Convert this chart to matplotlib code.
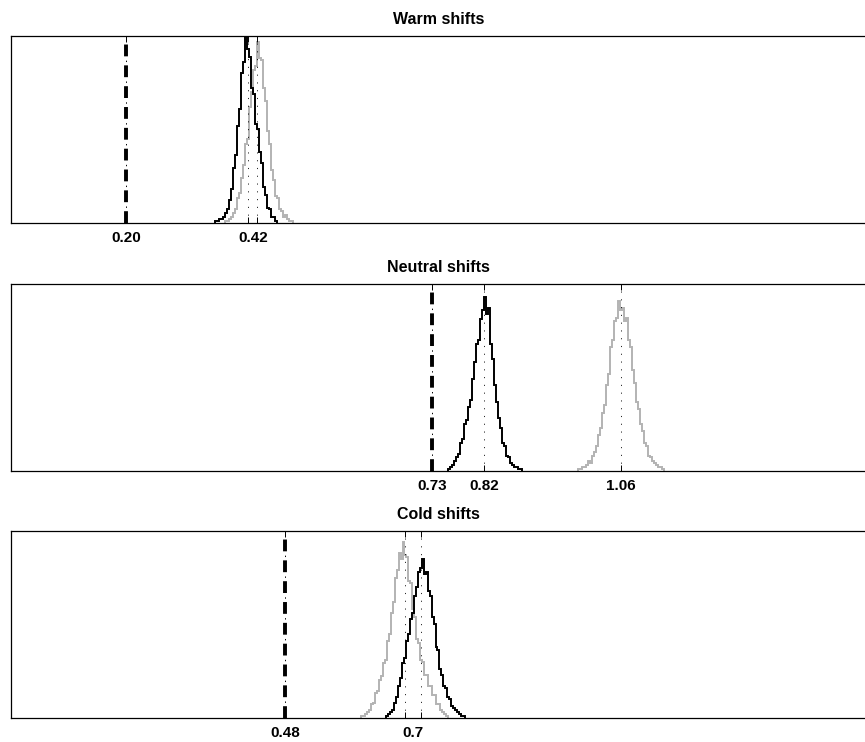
import numpy as np
import matplotlib
matplotlib.use("Agg")
from matplotlib import pyplot as plt

plt.rcParams['font.family'] = ['Liberation Sans', 'DejaVu Sans']
plt.rcParams['lines.scale_dashes'] = False

# ---- data ----
titles = ["Warm shifts", "Neutral shifts", "Cold shifts"]
xlims = [(0.0, 1.5), (-0.0095, 1.4905), (0.0, 1.5)]
bin_width = 0.0035

# observed value (thick dash-dot line)
observed = [0.202, 0.73, 0.4815]
# means of the two simulated distributions (dotted lines)
mean_black = [0.4165, 0.82, 0.7188]
mean_gray = [0.4323, 1.06, 0.6907]
# tick label positions / texts
label_pos = [[0.202, 0.4245], [0.73, 0.82, 1.06], [0.4815, 0.705]]
label_txt = [["0.20", "0.42"], ["0.73", "0.82", "1.06"], ["0.48", "0.7"]]

# histogram counts (percent of panel height), first bin edge
black_start = [0.3585, 0.7568, 0.6573]
gray_start = [0.3761, 0.9852, 0.6134]

black_p1 = [1, 1, 2, 2, 3, 5, 7, 12, 18, 29, 36, 52, 61, 80, 86, 100, 93, 89, 72, 69,
            53, 50, 38, 32, 19, 15, 8, 7, 3, 3, 1]
gray_p1 = [1, 1, 2, 3, 5, 7, 13, 16, 24, 31, 42, 45, 62, 70, 82, 84, 97, 88, 87, 72,
           65, 49, 42, 28, 23, 14, 13, 7, 6, 3, 4, 2, 1, 1]
black_p2 = [1, 2, 3, 5, 7, 9, 15, 17, 25, 27, 34, 38, 49, 58, 68, 70, 81, 86, 93, 84,
            87, 68, 60, 46, 37, 28, 23, 15, 13, 8, 7, 4, 3, 2, 2, 1, 1]
gray_p2 = [1, 1, 2, 2, 3, 5, 4, 8, 10, 13, 19, 23, 31, 35, 46, 52, 66, 70, 80, 82,
           91, 86, 87, 80, 82, 70, 66, 54, 47, 37, 33, 25, 21, 15, 13, 8, 7, 5, 4, 3,
           2, 2, 1]
black_p3 = [1, 2, 3, 4, 8, 11, 17, 21, 29, 32, 41, 45, 53, 56, 65, 70, 78, 80, 85, 77,
            78, 68, 65, 54, 50, 38, 36, 26, 23, 17, 16, 11, 10, 6, 5, 4, 3, 2, 1, 1]
gray_p3 = [1, 1, 2, 3, 4, 7, 8, 13, 14, 20, 22, 29, 31, 41, 45, 56, 62, 75, 79, 88,
           85, 94, 87, 86, 73, 72, 58, 54, 42, 40, 31, 30, 23, 23, 17, 17, 12, 12, 7, 7,
           4, 3, 2, 1]

black_counts = [black_p1, black_p2, black_p3]
gray_counts = [gray_p1, gray_p2, gray_p3]

# ---- layout ----
fig = plt.figure(figsize=(8.65, 7.42), dpi=100)
rects = [[0.0127, 0.7001, 0.9884, 0.2513],
         [0.0127, 0.3659, 0.9884, 0.2513],
         [0.0127, 0.0330, 0.9884, 0.2513]]

gray_col = '#b3b3b3'

for i in range(3):
    ax = fig.add_axes(rects[i])

    gc = np.array(gray_counts[i])
    ge = gray_start[i] + bin_width * np.arange(len(gc) + 1)
    ax.stairs(gc, ge, color=gray_col, lw=1.4)

    bc = np.array(black_counts[i])
    be = black_start[i] + bin_width * np.arange(len(bc) + 1)
    ax.stairs(bc, be, color='black', lw=1.4)

    # mean lines
    for m in (mean_black[i], mean_gray[i]):
        ax.axvline(m, color='black', lw=0.6, linestyle=(0, (0.8, 4.8)))

    # observed: thick dashes with small dots in between
    ax.axvline(observed[i], color='black', lw=2.8, linestyle=(0, (8.5, 6.5)))
    ax.axvline(observed[i], color='black', lw=0.7, linestyle=(3.75, (1.0, 14.0)))

    ax.set_xlim(*xlims[i])
    ax.set_ylim(0, 100)
    ax.set_yticks([])

    ax.xaxis.remove_overlapping_locs = False
    ax.set_xticks([observed[i], mean_black[i], mean_gray[i]], labels=['', '', ''])
    ax.set_xticks(label_pos[i], labels=label_txt[i], minor=True)
    ax.tick_params(axis='x', which='major', direction='in', top=True,
                   length=4, width=0.7)
    ax.tick_params(axis='x', which='minor', length=0, pad=6, labelsize=11)
    for lbl in ax.get_xticklabels(minor=True):
        lbl.set_fontweight('bold')

    for s in ax.spines.values():
        s.set_linewidth(0.9)

    ax.set_title(titles[i], fontsize=11.5, fontweight='bold', pad=9)

fig.savefig('out.png', dpi=100)
